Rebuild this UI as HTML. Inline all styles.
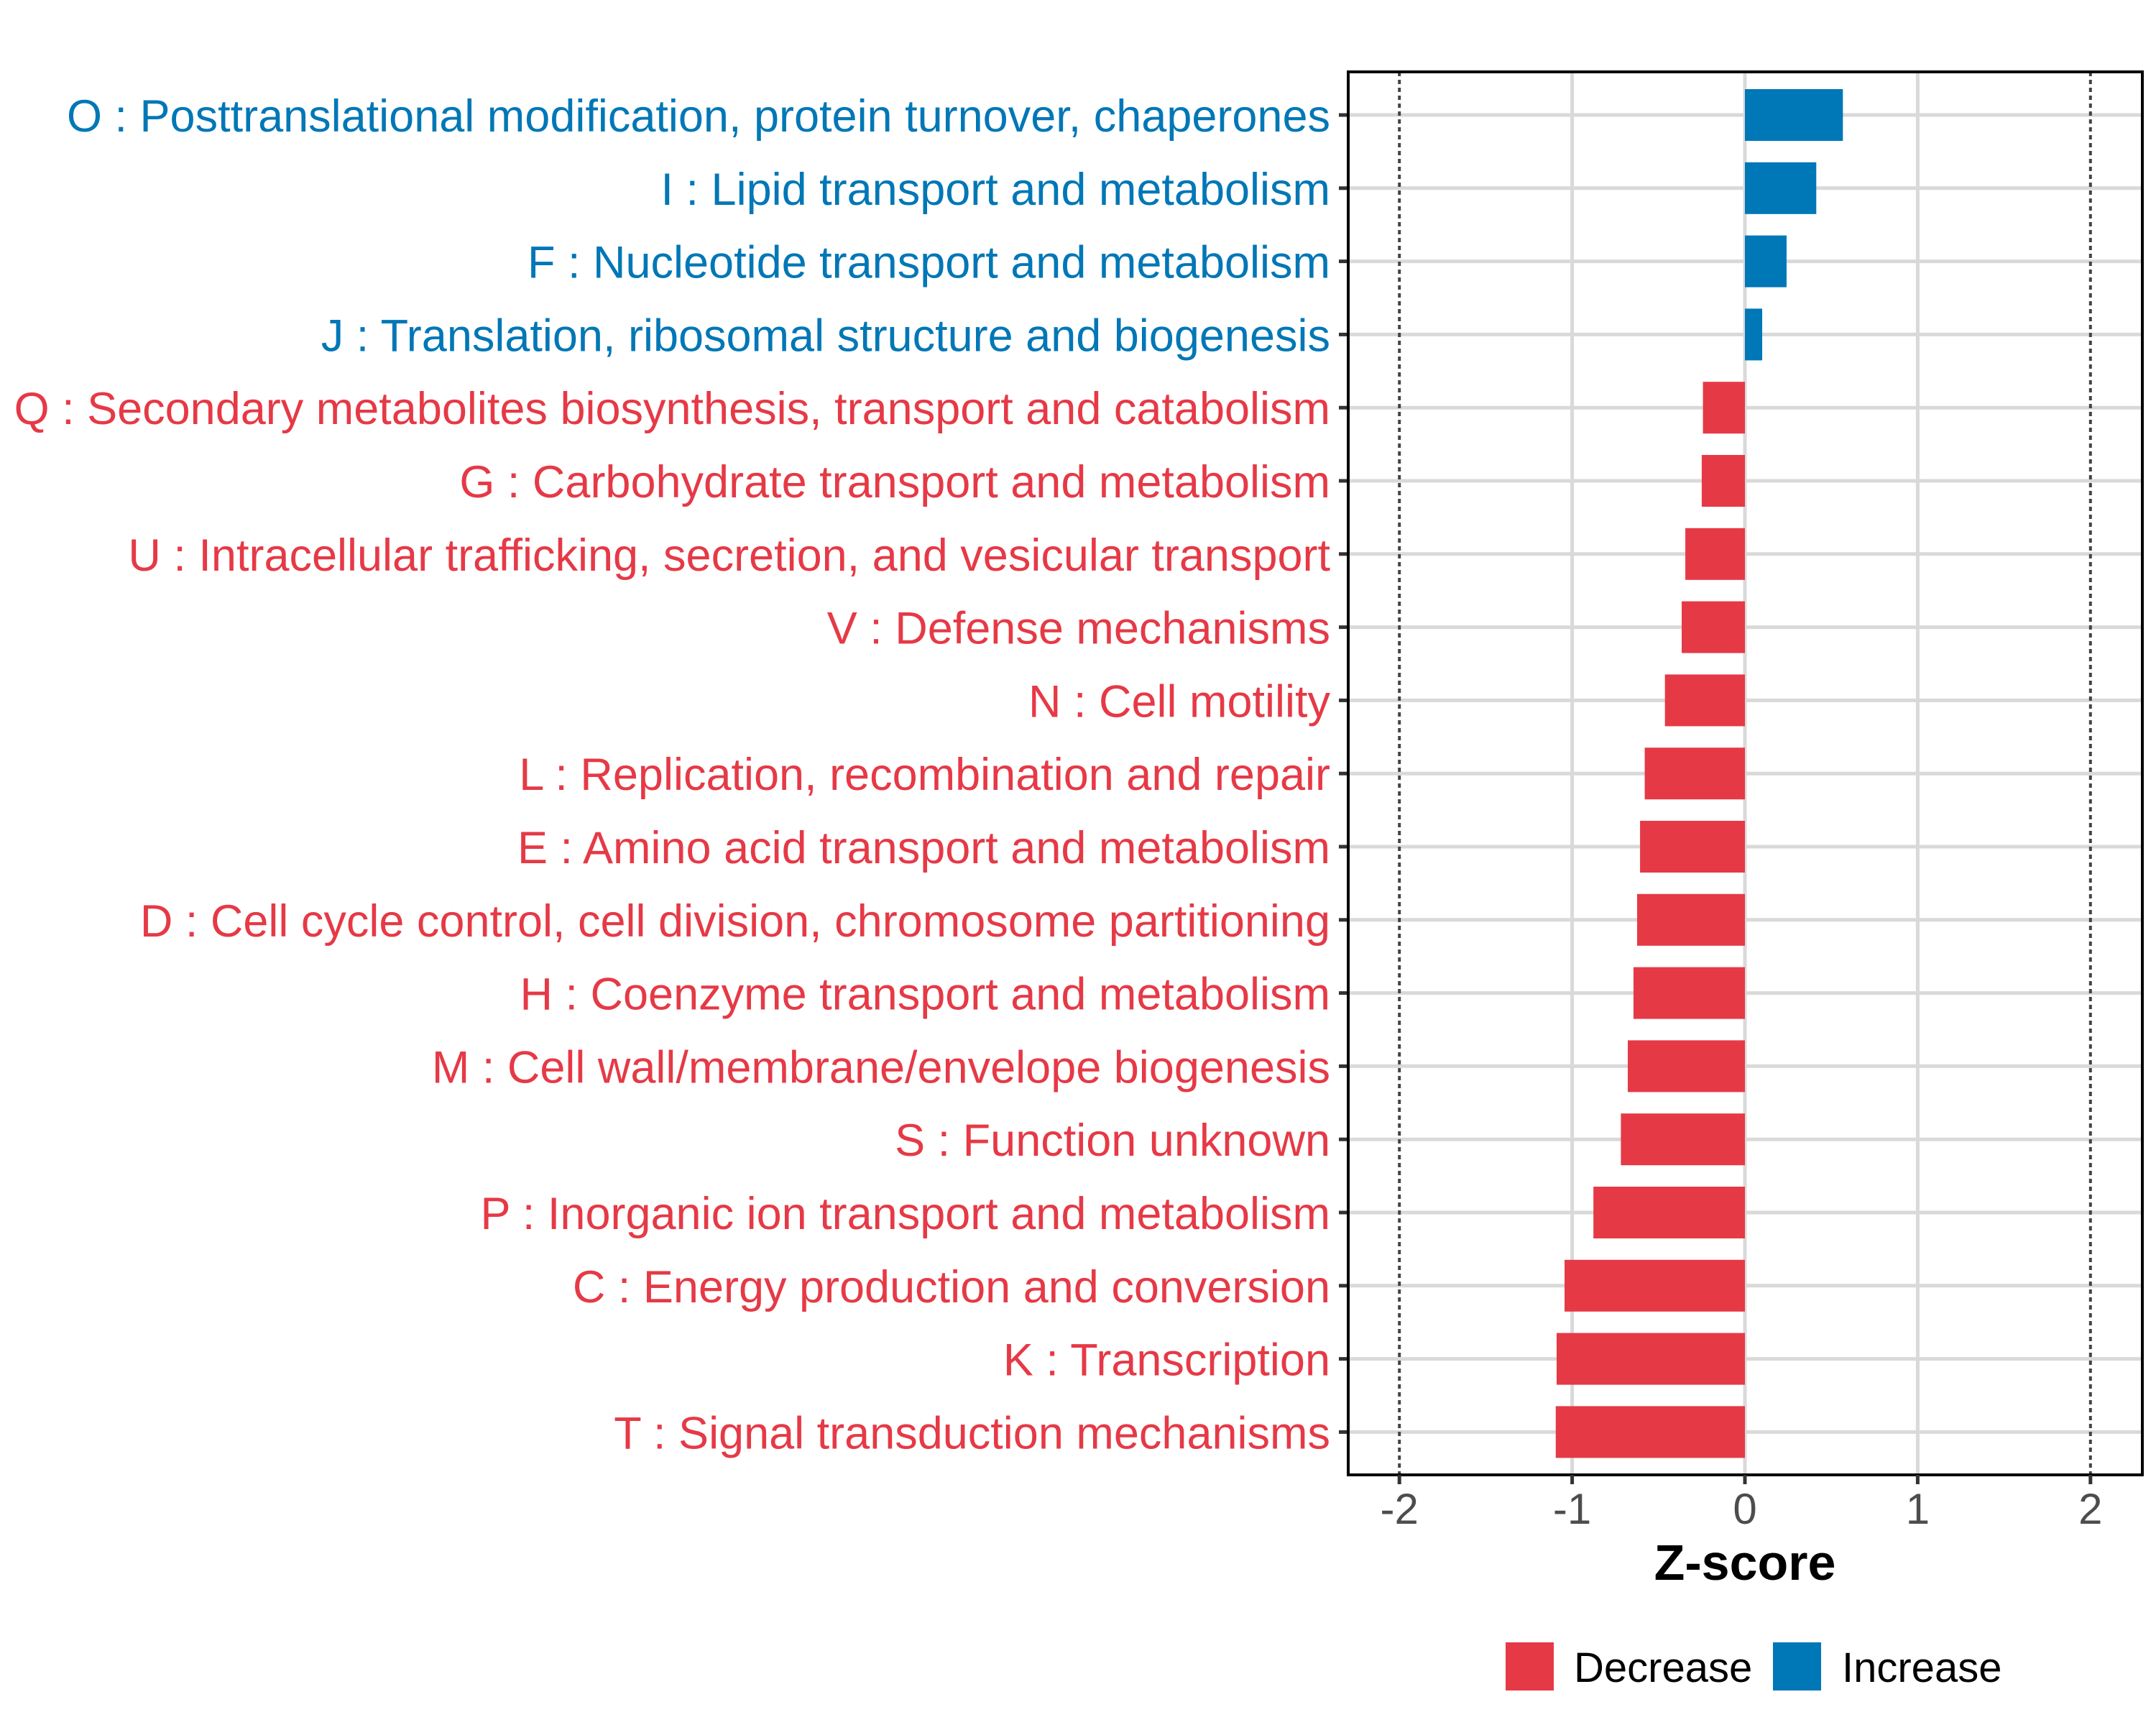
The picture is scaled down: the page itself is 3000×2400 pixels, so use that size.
<!DOCTYPE html>
<html><head><meta charset="utf-8"><style>
html,body{margin:0;padding:0;background:#fff;}
svg{display:block;font-family:"Liberation Sans",Arial,sans-serif;}
</style></head><body>
<svg id="chart" width="3000" height="2400" viewBox="0 0 3000 2400" xmlns="http://www.w3.org/2000/svg">
<rect width="3000" height="2400" fill="#fff"/>
<g id="grid"></g>
<g id="bars"></g>
<g id="ylabels"></g>
<g id="xaxis"></g>
<text x="2428" y="2198" text-anchor="middle" font-size="70" font-weight="bold" fill="#000">Z-score</text>
<g>
<rect x="2095" y="2285" width="67" height="67" fill="#e63946"/>
<text x="2190" y="2340" font-size="58" fill="#000">Decrease</text>
<rect x="2467" y="2285" width="67" height="67" fill="#0077b6"/>
<text x="2563" y="2340" font-size="58" fill="#000">Increase</text>
</g>
</svg>
<script>
const categories = [
"O : Posttranslational modification, protein turnover, chaperones",
"I : Lipid transport and metabolism",
"F : Nucleotide transport and metabolism",
"J : Translation, ribosomal structure and biogenesis",
"Q : Secondary metabolites biosynthesis, transport and catabolism",
"G : Carbohydrate transport and metabolism",
"U : Intracellular trafficking, secretion, and vesicular transport",
"V : Defense mechanisms",
"N : Cell motility",
"L : Replication, recombination and repair",
"E : Amino acid transport and metabolism",
"D : Cell cycle control, cell division, chromosome partitioning",
"H : Coenzyme transport and metabolism",
"M : Cell wall/membrane/envelope biogenesis",
"S : Function unknown",
"P : Inorganic ion transport and metabolism",
"C : Energy production and conversion",
"K : Transcription",
"T : Signal transduction mechanisms"];
const zscores = [0.567,0.413,0.241,0.1,-0.243,-0.25,-0.345,-0.366,-0.463,-0.58,-0.607,-0.624,-0.645,-0.678,-0.718,-0.877,-1.044,-1.09,-1.095];
const xTicks = [-2,-1,0,1,2];
const xTickLabels = ["-2","-1","0","1","2"];

const NS="http://www.w3.org/2000/svg";
const PL=1876, PR=2981, PT=100, PB=2052;
const x0=2428, unit=240.4;
function xs(v){return x0+v*unit;}
function ys(i){return 160+i*101.8;}
const BLUE="#0077b6", RED="#e63946";
function mk(tag,attrs,parent){const e=document.createElementNS(NS,tag);for(const k in attrs)e.setAttribute(k,attrs[k]);parent.appendChild(e);return e;}
const grid=document.getElementById('grid'), bars=document.getElementById('bars'), yl=document.getElementById('ylabels'), xa=document.getElementById('xaxis');

xTicks.forEach((t,i)=>{
  if(Math.abs(t)<2){
    const g=mk('line',{x1:xs(t),x2:xs(t),y1:PT,y2:PB,stroke:'#d9d9d9','stroke-width':5},grid);
    
    
  }
});
categories.forEach((c,i)=>{
  const g=mk('line',{x1:PL,x2:PR,y1:ys(i),y2:ys(i),stroke:'#d9d9d9','stroke-width':5},grid);
  
  
});
[-2,2].forEach(t=>{
  const d=mk('line',{x1:xs(t),x2:xs(t),y1:PT,y2:PB,stroke:'#444','stroke-width':4,'stroke-dasharray':'6 5'},grid);
  
  
});
categories.forEach((c,i)=>{
  const v=zscores[i];
  const col=v>=0?BLUE:RED;
  const b=mk('rect',{x:Math.min(xs(0),xs(v)),y:ys(i)-36,width:Math.abs(xs(v)-xs(0)),height:72,fill:col},bars);
  
  
  const t=mk('text',{x:1851,y:ys(i)+23,'text-anchor':'end','font-size':63,fill:col},yl);
  t.textContent=c;
  
  
  const tk=mk('line',{x1:1863,x2:PL,y1:ys(i),y2:ys(i),stroke:'#333','stroke-width':5},xa);
  
  
});
const border=mk('rect',{x:PL,y:PT,width:PR-PL,height:PB-PT,fill:'none',stroke:'#000','stroke-width':4},xa);


xTicks.forEach((t,i)=>{
  const tk=mk('line',{x1:xs(t),x2:xs(t),y1:PB,y2:PB+13,stroke:'#333','stroke-width':5},xa);
  
  
  const lb=mk('text',{x:xs(t),y:2120,'text-anchor':'middle','font-size':60,fill:'#4d4d4d'},xa);
  lb.textContent=xTickLabels[i];
  
  
});
</script>
</body></html>
